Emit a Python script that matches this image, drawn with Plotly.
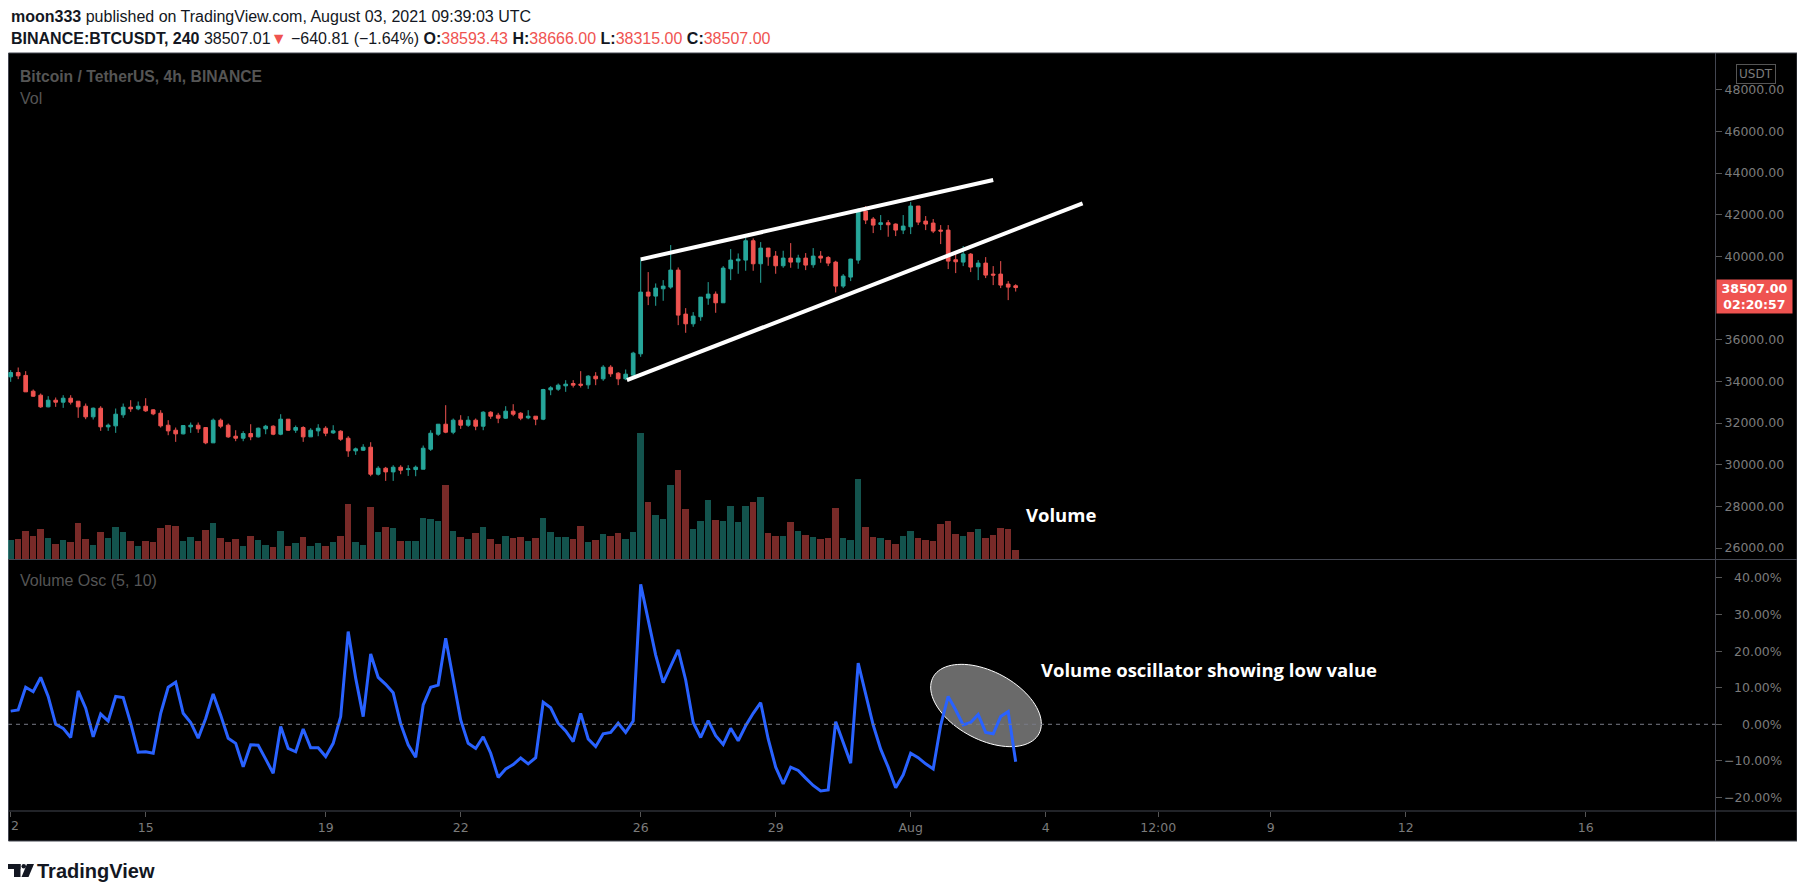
import numpy as np
import pandas as pd
import plotly.graph_objects as go

# BTCUSDT 4h candles, 2021-07-12 00:00 .. 2021-08-03 08:00
opens = [34222, 34430, 34290, 33533, 33341, 32781, 33101, 33005, 33197, 33053,
         32813, 32301, 32717, 31820, 31868, 32397, 32765, 32685, 32813, 32637,
         32477, 31900, 31660, 31484, 31820, 31900, 31788, 31052, 32141, 31900,
         31372, 31276, 31500, 31340, 31724, 31852, 31468, 32189, 31660, 31788,
         31340, 31628, 31756, 31532, 31612, 31276, 30668, 30700, 30844, 29547,
         29835, 29659, 29883, 29771, 29771, 29787, 30748, 31468, 31948, 31564,
         32141, 31900, 32141, 31852, 32525, 32381, 32237, 32573, 32477, 32253,
         32333, 32189, 33598, 33630, 33790, 33902, 33870, 33838, 34254, 34126,
         34686, 34398, 34126, 34302, 35326, 38288, 38096, 38448, 38528, 39345,
         37232, 36767, 37104, 38000, 38192, 37776, 39409, 39793, 39825, 40754,
         39649, 40402, 40017, 39553, 39921, 39729, 39921, 39601, 40017, 39953,
         39729, 38577, 39009, 39825, 42179, 41795, 41538, 41618, 41554, 41266,
         41426, 42419, 41698, 41602, 41266, 41266, 39841, 39729, 40113, 39505,
         39681, 39153, 39153, 38673, 38593.43]
highs = [34542, 34670, 34494, 33614, 33421, 33293, 33229, 33341, 33341, 33053,
         32941, 32749, 32813, 31980, 32701, 32941, 33101, 33037, 33197, 32669,
         32621, 32141, 31788, 31884, 32029, 32029, 31788, 32221, 32221, 31980,
         31660, 31612, 31948, 31788, 31916, 31900, 32429, 32189, 31884, 31852,
         31756, 31948, 31852, 31900, 31660, 31372, 30828, 30988, 31084, 29931,
         29899, 29979, 29979, 29979, 29963, 30924, 31660, 31948, 32861, 32221,
         32381, 32333, 32221, 32573, 32573, 32493, 32813, 32909, 32525, 32621,
         32333, 33646, 33774, 33902, 34062, 34062, 34494, 34302, 34446, 34782,
         34782, 34446, 34574, 35423, 39857, 39249, 38705, 38865, 40546, 39473,
         37520, 37328, 38048, 38769, 38320, 39537, 40354, 40145, 40882, 40866,
         40690, 40402, 40258, 40274, 40642, 40081, 40162, 40402, 40258, 40017,
         39793, 39153, 39889, 42307, 42419, 41891, 41987, 41746, 41586, 41987,
         42611, 42419, 41939, 41795, 41506, 41506, 40113, 40498, 40162, 39825,
         39969, 39537, 39777, 38817, 38666]
lows = [33982, 34110, 33501, 33261, 32733, 32760, 32781, 32733, 32893, 32253,
        32189, 32173, 31628, 31628, 31532, 32253, 32541, 32621, 32541, 32381,
        31788, 31420, 31100, 31460, 31532, 31532, 30988, 31052, 31756, 31292,
        31132, 31132, 31180, 31308, 31468, 31420, 31420, 31628, 31532, 31100,
        31340, 31372, 31372, 31484, 31148, 30380, 30476, 30668, 29451, 29483,
        29227, 29227, 29547, 29467, 29451, 29787, 30668, 31388, 31516, 31468,
        31724, 31820, 31660, 31660, 32205, 31997, 32205, 32333, 32141, 32189,
        31900, 32141, 33341, 33549, 33501, 33709, 33709, 33645, 33822, 34030,
        34222, 33822, 34062, 34270, 35182, 37664, 37632, 37872, 38448, 36703,
        36335, 36623, 36911, 37680, 37296, 37776, 38865, 39169, 39313, 39313,
        38737, 39553, 39169, 39457, 39457, 39409, 39345, 39457, 39697, 39537,
        38272, 38480, 38817, 39649, 41554, 41122, 41266, 40946, 40978, 41074,
        41074, 41506, 41266, 41122, 40594, 39393, 39201, 39537, 39249, 38865,
        38961, 38625, 38480, 37904, 38315]
closes = [34430, 34270, 33501, 33293, 32781, 33101, 33005, 33197, 33005, 32781,
          32301, 32717, 31821, 31900, 32429, 32765, 32685, 32813, 32589, 32445,
          31868, 31628, 31484, 31884, 31900, 31724, 31052, 32141, 31852, 31340,
          31276, 31500, 31340, 31756, 31852, 31468, 32189, 31660, 31788, 31340,
          31660, 31756, 31516, 31628, 31228, 30668, 30764, 30844, 29547, 29835,
          29659, 29883, 29739, 29803, 29883, 30796, 31516, 31948, 31564, 32141,
          31900, 32141, 31852, 32525, 32333, 32237, 32573, 32429, 32237, 32333,
          32189, 33614, 33694, 33822, 33870, 33822, 33822, 34254, 34126, 34686,
          34366, 34126, 34350, 35359, 38288, 38096, 38480, 38577, 39345, 37184,
          36767, 37136, 38048, 38192, 37776, 39441, 39825, 39873, 40754, 39649,
          40402, 39985, 39553, 39921, 39729, 39921, 39585, 40017, 39921, 39681,
          38577, 39057, 39873, 42179, 41746, 41506, 41618, 41522, 41266, 41458,
          42419, 41650, 41554, 41218, 41218, 39777, 39745, 40113, 39489, 39681,
          39105, 39105, 38625, 38528, 38507]
volumes = [5800, 6100, 8500, 7000, 9100, 6400, 4600, 5800, 5200, 10900,
           6100, 4300, 8200, 6400, 9700, 8200, 5500, 4000, 5500, 5200,
           9400, 10300, 10000, 5500, 6700, 5500, 8800, 10900, 6400, 5200,
           6100, 4000, 7000, 5800, 4300, 3700, 8500, 4000, 4900, 6700,
           4000, 4900, 4000, 5200, 7000, 16600, 5200, 4300, 15700, 8200,
           9700, 9400, 5500, 5500, 5500, 12400, 12100, 11500, 22300, 8500,
           6700, 6100, 7900, 9700, 6100, 4600, 7000, 6400, 6700, 5500,
           6400, 12300, 8100, 6600, 6600, 6000, 9900, 5100, 5700, 7500,
           6900, 7800, 6000, 8100, 37800, 17100, 13200, 12000, 22200, 26700,
           15000, 9000, 11400, 17700, 11700, 11400, 15900, 11100, 15900, 17100,
           18600, 7800, 6900, 6900, 11100, 8400, 7200, 6600, 6000, 6300,
           15300, 6300, 5700, 24000, 9600, 6600, 6300, 5700, 4500, 6900,
           8400, 6300, 5700, 5400, 10500, 11400, 7500, 6900, 8100, 9000,
           6300, 7200, 9300, 9000, 2700]
vol_osc = [3.6, 3.9, 10.1, 8.9, 12.8, 7.6, 0.0, -1.1, -3.6, 9.1,
           4.4, -3.4, 2.8, 0.9, 7.6, 7.3, 0.3, -7.6, -7.5, -7.9,
           3.0, 10.1, 11.5, 3.0, 0.5, -3.8, 1.6, 8.3, 2.5, -3.8,
           -5.2, -11.6, -5.6, -5.7, -9.5, -13.4, -0.6, -6.6, -7.5, -1.3,
           -6.4, -6.4, -8.8, -5.2, 2.1, 25.3, 12.6, 2.1, 19.2, 12.8,
           10.9, 8.6, 0.1, -5.6, -9.0, 5.3, 10.1, 10.7, 23.5, 11.9,
           1.2, -5.2, -6.6, -3.4, -7.9, -14.5, -12.2, -11.0, -9.2, -10.8,
           -9.1, 6.0, 4.5, 0.3, -1.8, -4.7, 3.0, -4.0, -6.1, -2.6,
           -2.2, 0.3, -2.2, 0.9, 38.2, 28.5, 18.9, 11.4, 15.7, 20.3,
           12.1, 0.5, -3.6, 1.0, -3.1, -5.5, -1.1, -4.5, -0.4, 3.0,
           5.9, -4.0, -11.7, -16.3, -11.7, -12.6, -14.7, -16.7, -18.2, -17.9,
           0.7, -5.2, -10.6, 16.7, 8.5, -0.2, -6.8, -11.7, -17.3, -13.8,
           -7.9, -9.1, -10.8, -12.2, -0.2, 7.6, 3.9, -0.2, 0.5, 2.7,
           -2.2, -2.6, 2.1, 3.5, -10.2]

times = pd.date_range("2021-07-12 00:00", periods=len(closes), freq="4h")

# 38000 sits under the last-price tag, so it is not labelled
price_ticks = [26000, 28000, 30000, 32000, 34000, 36000, 40000, 42000, 44000, 46000, 48000]
osc_ticks = [40, 30, 20, 10, 0, -10, -20]
date_ticks = ["2021-07-12", "2021-07-15", "2021-07-19", "2021-07-22", "2021-07-26",
              "2021-07-29", "2021-08-01", "2021-08-04", "2021-08-06 12:00",
              "2021-08-09", "2021-08-12", "2021-08-16"]
date_labels = ["12", "15", "19", "22", "26", "29", "Aug", "4", "12:00", "9", "12", "16"]

# hand-drawn wedge lines (time, price)
upper_line = [("2021-07-26 00:00", 39860), ("2021-08-02 20:00", 43670)]
lower_line = [("2021-07-25 16:40", 34060), ("2021-08-04 19:40", 42550)]

UP = "#26a69a"
DOWN = "#ef5350"
GREY = "#7b7b7b"
BORDER = "#434651"
FONT = "Liberation Sans, Arial, sans-serif"

vol_colors = ["rgba(38,166,154,0.5)" if c >= o else "rgba(239,83,80,0.5)"
              for o, c in zip(opens, closes)]

# the page body adds an 8px margin, so the figure is 16px smaller than the window
# and every position below is given in window pixels (helpers convert to paper)
OFF = 8
W, H = 1805 - 2 * OFF, 895 - 2 * OFF
L, R, T, B = 0, 82, 45, 76
pw, ph = W - L - R, H - T - B


def px(x):
    return (x - OFF - L) / pw


def py(y):
    return (H - B - (y - OFF)) / ph


fig = go.Figure()
fig.add_trace(go.Bar(
    x=times, y=volumes, marker=dict(color=vol_colors, line=dict(width=0)),
    width=4 * 3600 * 1000 * 0.86, yaxis="y2", hoverinfo="skip"))
fig.add_trace(go.Candlestick(
    x=times, open=opens, high=highs, low=lows, close=closes,
    increasing=dict(line=dict(color=UP, width=1), fillcolor=UP),
    decreasing=dict(line=dict(color=DOWN, width=1), fillcolor=DOWN),
    whiskerwidth=0, yaxis="y"))
fig.add_trace(go.Scatter(
    x=times, y=vol_osc, mode="lines", line=dict(color="#2962ff", width=3),
    yaxis="y3"))

main_dom = [py(559), 1]
osc_dom = [0, py(560)]

shapes = []
# black chart box incl. price / time scales
shapes.append(dict(type="rect", xref="paper", yref="paper", x0=px(8.5), x1=px(1797),
                   y0=py(841), y1=py(53), fillcolor="#000000",
                   line=dict(color=BORDER, width=1), layer="below"))
shapes.append(dict(type="line", xref="paper", yref="paper", x0=px(8), x1=px(1797),
                   y0=py(559.5), y1=py(559.5), line=dict(color=BORDER, width=1)))
shapes.append(dict(type="line", xref="paper", yref="paper", x0=px(8), x1=px(1797),
                   y0=py(811), y1=py(811), line=dict(color=BORDER, width=1)))
shapes.append(dict(type="line", xref="paper", yref="paper", x0=px(1715.5), x1=px(1715.5),
                   y0=py(841), y1=py(53), line=dict(color=BORDER, width=1)))
# zero line of oscillator
shapes.append(dict(type="line", xref="paper", yref="y3", x0=0, x1=1, y0=0, y1=0,
                   line=dict(color="#787b86", width=1, dash="4px,4px")))
# wedge lines
for (t0, p0), (t1, p1) in [upper_line, lower_line]:
    shapes.append(dict(type="line", xref="x", yref="y", x0=t0, y0=p0, x1=t1, y1=p1,
                       line=dict(color="#ffffff", width=4)))
# grey ellipse around the last oscillator values
cx, cy, a, b, th = 986, 705.5, 60, 34, np.radians(28)
tt = np.linspace(0, 2 * np.pi, 90)
ex = cx + a * np.cos(tt) * np.cos(th) - b * np.sin(tt) * np.sin(th)
ey = cy + a * np.cos(tt) * np.sin(th) + b * np.sin(tt) * np.cos(th)
path = "M " + " L ".join(f"{px(u):.5f},{py(v):.5f}" for u, v in zip(ex, ey)) + " Z"
shapes.append(dict(type="path", xref="paper", yref="paper", path=path,
                   fillcolor="#6a6a6a", line=dict(color="#ffffff", width=1),
                   layer="below"))
# TradingView logo mark
LOGO = "#131722"
shapes.append(dict(type="rect", xref="paper", yref="paper", x0=px(8), x1=px(20.5),
                   y0=py(869), y1=py(864), fillcolor=LOGO, line=dict(width=0)))
shapes.append(dict(type="rect", xref="paper", yref="paper", x0=px(14), x1=px(20.5),
                   y0=py(877), y1=py(864), fillcolor=LOGO, line=dict(width=0)))
shapes.append(dict(type="circle", xref="paper", yref="paper", x0=px(21.5), x1=px(26),
                   y0=py(868.5), y1=py(864), fillcolor=LOGO, line=dict(width=0)))
shapes.append(dict(type="path", xref="paper", yref="paper",
                   path=f"M {px(27)},{py(864)} L {px(34)},{py(864)} L {px(28.5)},{py(877)} L {px(21.5)},{py(877)} Z",
                   fillcolor=LOGO, line=dict(width=0)))

red = "<span style='color:#ef5350'>"
header2 = ("<b>BINANCE:BTCUSDT, 240</b> 38507.01" + red + "▼</span> −640.81 (−1.64%) "
           "<b>O:</b>" + red + "38593.43</span> <b>H:</b>" + red + "38666.00</span> "
           "<b>L:</b>" + red + "38315.00</span> <b>C:</b>" + red + "38507.00</span>")

ann = [
    dict(text="<b>moon333</b> published on TradingView.com, August 03, 2021 09:39:03 UTC",
         x=px(9), y=py(16), font=dict(size=16, color="#131722")),
    dict(text=header2, x=px(9), y=py(38), font=dict(size=16, color="#131722")),
    dict(text="<b>Bitcoin / TetherUS, 4h, BINANCE</b>", x=px(18), y=py(76),
         font=dict(size=15.7, color="#555555")),
    dict(text="Vol", x=px(18), y=py(98), font=dict(size=16, color="#555555")),
    dict(text="Volume Osc (5, 10)", x=px(18), y=py(580), font=dict(size=16, color="#555555")),
    dict(text="<b>Volume</b>", x=px(1024), y=py(514), font=dict(size=18.5, color="#ffffff",
                                                              family="Open Sans")),
    dict(text="<b>Volume oscillator showing low value</b>", x=px(1039), y=py(669),
         font=dict(size=18.5, color="#ffffff", family="Open Sans")),
    dict(text="<b>TradingView</b>", x=px(35), y=py(871),
         font=dict(size=20, color="#131722")),
]
for d in ann:
    d.update(xref="paper", yref="paper", xanchor="left", yanchor="middle", showarrow=False)
    d["font"].setdefault("family", FONT)

axis_font = dict(size=12.5, color=GREY, family="DejaVu Sans")

ann.append(dict(text="USDT", xref="paper", yref="paper", x=px(1756), y=py(74),
                xanchor="center", yanchor="middle", showarrow=False,
                font=dict(size=12, color=GREY, family="DejaVu Sans"),
                bordercolor="#555555", borderwidth=1, borderpad=2))
ann.append(dict(text="<b>38507.00</b><br><b>02:20:57</b>", xref="paper", yref="y",
                x=px(1716), y=closes[-1], xanchor="left", yanchor="middle", yshift=-9,
                showarrow=False, align="center", width=73, height=31,
                bgcolor="#ef5350", font=dict(size=12.5, color="#ffffff", family="DejaVu Sans")))
# oscillator scale labels are right-aligned in the reference
for v in osc_ticks:
    ann.append(dict(text=f"{v:.2f}%".replace("-", "−"), xref="paper", yref="y3",
                    x=px(1784), y=v, xanchor="right", yanchor="middle", showarrow=False,
                    font=axis_font))
# the "12" date label is cut by the left border, only its "2" shows
ann.append(dict(text="2", xref="paper", yref="paper", x=px(9), y=py(825),
                xanchor="left", yanchor="middle", showarrow=False, font=axis_font))

x_start = times[0] - pd.Timedelta(minutes=86)
x_end = times[0] + pd.Timedelta(hours=908.96)

fig.update_layout(
    width=W, height=H, margin=dict(l=L, r=R, t=T, b=B),
    paper_bgcolor="#ffffff", plot_bgcolor="#000000",
    showlegend=False, bargap=0,
    xaxis=dict(range=[x_start, x_end], anchor="y3", rangeslider=dict(visible=False),
               showgrid=False, zeroline=False, showline=False,
               tickvals=date_ticks, ticktext=date_labels, ticks="outside",
               ticklen=5, tickcolor="#555555", tickfont=axis_font),
    yaxis=dict(domain=main_dom, range=[25478, 49766], side="right", anchor="x",
               showgrid=False, zeroline=False, tickvals=price_ticks,
               ticktext=[f"{v}.00" for v in price_ticks], ticks="outside",
               ticklen=6, tickcolor="#555555", tickfont=axis_font),
    yaxis2=dict(overlaying="y", range=[0, 151800], showticklabels=False,
                showgrid=False, zeroline=False),
    yaxis3=dict(domain=osc_dom, range=[-23.67, 44.85], side="right", anchor="x",
                showgrid=False, zeroline=False, tickvals=osc_ticks,
                showticklabels=False, ticks="outside", ticklen=6, tickcolor="#555555"),
    shapes=shapes, annotations=ann,
)

fig.write_html("out.html")
